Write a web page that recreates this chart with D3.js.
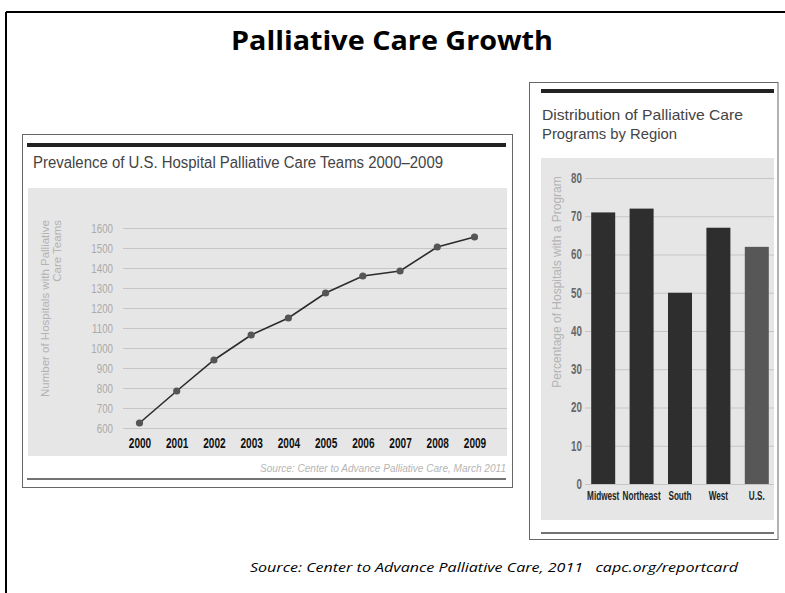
<html>
<head>
  <title>Palliative Care Growth</title>
  <script src="https://d3js.org/d3.v7.min.js"></script>
  <style>
  body{
    margin:0;
    background:white;
  }
  .frame{
    stroke:black;
    stroke-width:2px;
  }
  .box{
    fill:white;
    stroke:#666;
    stroke-width:1px;
  }
  .plotbg{
    fill:#e6e6e6;
  }
  .grid line{
    stroke:#c6c6c6;
    stroke-width:1.2px;
  }
  .grid .domain{
    display:none;
  }
  .ylab text{
    fill:#aaa;
    font-family:"Liberation Sans",sans-serif;
    font-size:13px;
  }
  .cond{
    font-family:"Liberation Sans",sans-serif;
    font-weight:bold;
  }
  .ctitle{
    fill:#444;
    font-family:"Liberation Sans",sans-serif;
  }
  .axtitle{
    fill:#b3b3b3;
    font-family:"Liberation Sans",sans-serif;
  }
  </style>
</head>
<body>
  <svg id="slide" width="785" height="593"></svg>
  <script>
// data
const years = ["2000","2001","2002","2003","2004","2005","2006","2007","2008","2009"];
const teams = [625, 785, 940, 1065, 1150, 1275, 1360, 1385, 1505, 1555];
const teamTicks = [600,700,800,900,1000,1100,1200,1300,1400,1500,1600];

const regions = ["Midwest","Northeast","South","West","U.S."];
const pctProgram = [71, 72, 50, 67, 62];
const pctTicks = [0,10,20,30,40,50,60,70,80];

const svg = d3.select("#slide");

// slide frame
svg.append("line").attr("class","frame").attr("x1",6).attr("y1",12).attr("x2",785).attr("y2",12);
svg.append("line").attr("class","frame").attr("x1",6).attr("y1",12).attr("x2",6).attr("y2",593);

svg.append("text")
  .attr("x",392).attr("y",50)
  .attr("text-anchor","middle")
  .style("font-family","'Open Sans',sans-serif")
  .style("font-weight","bold")
  .style("font-size","27px")
  .attr("textLength",322).attr("lengthAdjust","spacingAndGlyphs")
  .text("Palliative Care Growth");

//LEFT CHART
const left = svg.append("g");
left.append("rect").attr("class","box").attr("x",22.5).attr("y",134.5).attr("width",490).attr("height",353);
left.append("rect").attr("x",27).attr("y",143).attr("width",479).attr("height",4).attr("fill","#222");
left.append("text").attr("class","ctitle")
  .attr("x",33).attr("y",168)
  .style("font-size","16px")
  .attr("textLength",410).attr("lengthAdjust","spacingAndGlyphs")
  .text("Prevalence of U.S. Hospital Palliative Care Teams 2000–2009");
left.append("rect").attr("class","plotbg").attr("x",28).attr("y",188).attr("width",479).attr("height",268);

const yLeft = d3.scaleLinear().domain([600,1600]).range([428,228]);
const xLeft = d3.scalePoint().domain(years).range([139.5,474.5]);

const gyl = left.append("g")
  .attr("class","grid ylab")
  .attr("transform","translate(507,0)")
  .call(d3.axisLeft(yLeft).tickValues(teamTicks).tickFormat(d3.format("d")).tickSize(384).tickPadding(10));
// narrow the tick labels
gyl.selectAll("text")
  .attr("x",0)
  .attr("transform","translate(-394,0) scale(0.75,1)");

const xAxisL = left.append("g")
  .attr("transform","translate(0,438)")
  .call(d3.axisBottom(xLeft).tickSize(0).tickPadding(0));
xAxisL.select(".domain").remove();
xAxisL.selectAll("text")
  .attr("class","cond")
  .style("font-size","14px")
  .attr("fill","#111")
  .attr("transform","scale(0.72,1)");

const yt = left.append("text").attr("class","axtitle")
  .style("font-size","11.5px")
  .attr("transform","translate(49,220) rotate(-90)")
  .attr("text-anchor","end");
yt.append("tspan").attr("x",0).attr("dy",0).text("Number of Hospitals with Palliative");
yt.append("tspan").attr("x",0).attr("dy","1.05em").text("Care Teams");

const line = d3.line()
  .x((d,i) => xLeft(years[i]))
  .y(d => yLeft(d));
left.append("path")
  .datum(teams)
  .attr("d",line)
  .attr("fill","none")
  .attr("stroke","#2c2c2c")
  .attr("stroke-width",1.6);
left.selectAll("circle").data(teams).enter()
  .append("circle")
  .attr("cx",(d,i) => xLeft(years[i]))
  .attr("cy",d => yLeft(d))
  .attr("r",3.6)
  .attr("fill","#555");

left.append("text")
  .attr("x",506).attr("y",471.5)
  .attr("text-anchor","end")
  .style("font-family","'Liberation Sans',sans-serif")
  .style("font-style","italic")
  .style("font-size","10.5px")
  .attr("fill","#b5b5b5")
  .attr("textLength",246).attr("lengthAdjust","spacingAndGlyphs")
  .text("Source: Center to Advance Palliative Care, March 2011");
left.append("line").attr("x1",27).attr("x2",506).attr("y1",479).attr("y2",479)
  .attr("stroke","#444").attr("stroke-width",1.5);

//RIGHT CHART
const right = svg.append("g");
right.append("rect").attr("class","box").attr("x",529.5).attr("y",82.5).attr("width",248.5).attr("height",457);
right.append("rect").attr("x",541).attr("y",89).attr("width",233).attr("height",4).attr("fill","#222");
right.append("text").attr("class","ctitle")
  .attr("x",542).attr("y",120)
  .style("font-size","14.5px")
  .attr("textLength",201).attr("lengthAdjust","spacingAndGlyphs")
  .text("Distribution of Palliative Care");
right.append("text").attr("class","ctitle")
  .attr("x",542).attr("y",138.5)
  .style("font-size","14.5px")
  .attr("textLength",135).attr("lengthAdjust","spacingAndGlyphs")
  .text("Programs by Region");
right.append("rect").attr("class","plotbg").attr("x",541).attr("y",158).attr("width",233).attr("height",362);

const yRight = d3.scaleLinear().domain([0,80]).range([484,178]);
const xRight = d3.scaleBand().domain(regions).range([584,776]).paddingInner(0.375).paddingOuter(0.1875);

const gy = right.append("g")
  .attr("class","grid")
  .attr("transform","translate(774,0)")
  .call(d3.axisLeft(yRight).tickValues(pctTicks).tickSize(189).tickPadding(3));
gy.selectAll("text")
  .attr("class","cond")
  .style("font-size","14px")
  .attr("fill","#666")
  .attr("x",0)
  .attr("transform","translate(-192,0) scale(0.7,1)");

right.selectAll(".bar").data(pctProgram).enter()
  .append("rect")
  .attr("class","bar")
  .attr("x",(d,i) => xRight(regions[i]))
  .attr("y",d => yRight(d))
  .attr("width",xRight.bandwidth())
  .attr("height",d => yRight(0) - yRight(d))
  .attr("fill",(d,i) => regions[i] == "U.S." ? "#575757" : "#2e2e2e");

const xAxisR = right.append("g")
  .attr("transform","translate(0,491)")
  .call(d3.axisBottom(xRight).tickSize(0).tickPadding(0));
xAxisR.select(".domain").remove();
xAxisR.selectAll("text")
  .attr("class","cond")
  .style("font-size","12px")
  .attr("fill","#222")
  .attr("transform","scale(0.68,1)");

right.append("text").attr("class","axtitle")
  .style("font-size","12px")
  .attr("transform","translate(561,282) rotate(-90)")
  .attr("text-anchor","middle")
  .text("Percentage of Hospitals with a Program");

right.append("line").attr("x1",541).attr("x2",774).attr("y1",533).attr("y2",533)
  .attr("stroke","#444").attr("stroke-width",1.5);

//FOOTER
svg.append("text")
  .attr("x",250).attr("y",572)
  .style("font-family","'Open Sans',sans-serif")
  .style("font-style","italic")
  .style("font-size","12.5px")
  .attr("textLength",488).attr("lengthAdjust","spacingAndGlyphs")
  .attr("xml:space","preserve")
  .text("Source: Center to Advance Palliative Care, 2011   capc.org/reportcard");
  </script>
</body>
</html>
